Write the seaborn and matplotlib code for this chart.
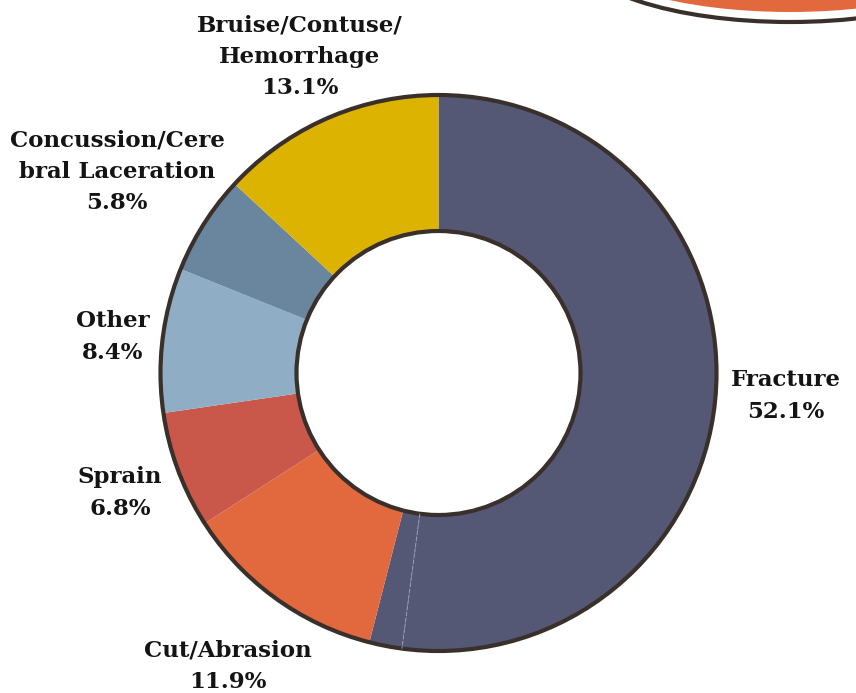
import numpy as np
import matplotlib
matplotlib.use("Agg")
import matplotlib.pyplot as plt
from matplotlib.patches import Circle, Ellipse
import seaborn as sns

# data (clockwise from top)
categories = ["Fracture", "", "Cut/Abrasion", "Sprain", "Other",
              "Concussion/Cerebral Laceration", "Bruise/Contuse/Hemorrhage"]
shares = [52.1, 1.9, 11.9, 6.8, 8.4, 5.8, 13.1]
colors = ["#555875", "#555875", "#E2693D", "#C9574A", "#8FAEC6", "#6A869E", "#DBB300"]

label_texts = ["Fracture\n52.1%", "Cut/Abrasion\n11.9%", "Sprain\n6.8%", "Other\n8.4%",
               "Concussion/Cere\nbral Laceration\n5.8%", "Bruise/Contuse/\nHemorrhage\n13.1%"]
label_pos = [(786, 396), (228, 666), (120, 493), (113, 337), (117, 172), (300, 57)]

sns.set_theme(style="white")
plt.rcParams['font.family'] = ['DejaVu Serif']

W, H = 856, 693
fig = plt.figure(figsize=(W / 100, H / 100), dpi=100)
ax = fig.add_axes([0, 0, 1, 1])

cx, cy = 438.5, H - 373
r_out, r_in = 278, 142
ink = "#3a302b"

wedges, _ = ax.pie(shares, colors=colors, startangle=90, counterclock=False,
                   center=(cx, cy), radius=r_out,
                   wedgeprops=dict(width=r_out - r_in, linewidth=0), frame=True)
ax.set_xlim(0, W)
ax.set_ylim(0, H)
ax.set_aspect("equal")
ax.axis("off")

# thin separator between fracture and the small slice
ang = np.deg2rad(90 - 360 * shares[0] / sum(shares))
ax.plot([cx + r_in * np.cos(ang), cx + r_out * np.cos(ang)],
        [cy + r_in * np.sin(ang), cy + r_out * np.sin(ang)],
        color="#9a9cb5", lw=0.7, ls=(0, (4, 2)))

ax.add_patch(Circle((cx, cy), r_out, fill=False, ec=ink, lw=3))
ax.add_patch(Circle((cx, cy), r_in, fill=False, ec=ink, lw=3))

# decorative badge cut off at the top right
ax.add_patch(Ellipse((790, H + 50), 430, 144, fill=False, ec=ink, lw=3))
ax.add_patch(Ellipse((790, H + 50), 408, 124, fc="#E2693D", ec="none"))

for txt, (x, y) in zip(label_texts, label_pos):
    ax.text(x, H - y, txt, ha="center", va="center", fontsize=16.5, fontweight="bold",
            color="#141414", linespacing=1.55)

fig.savefig("out.png", dpi=100)
